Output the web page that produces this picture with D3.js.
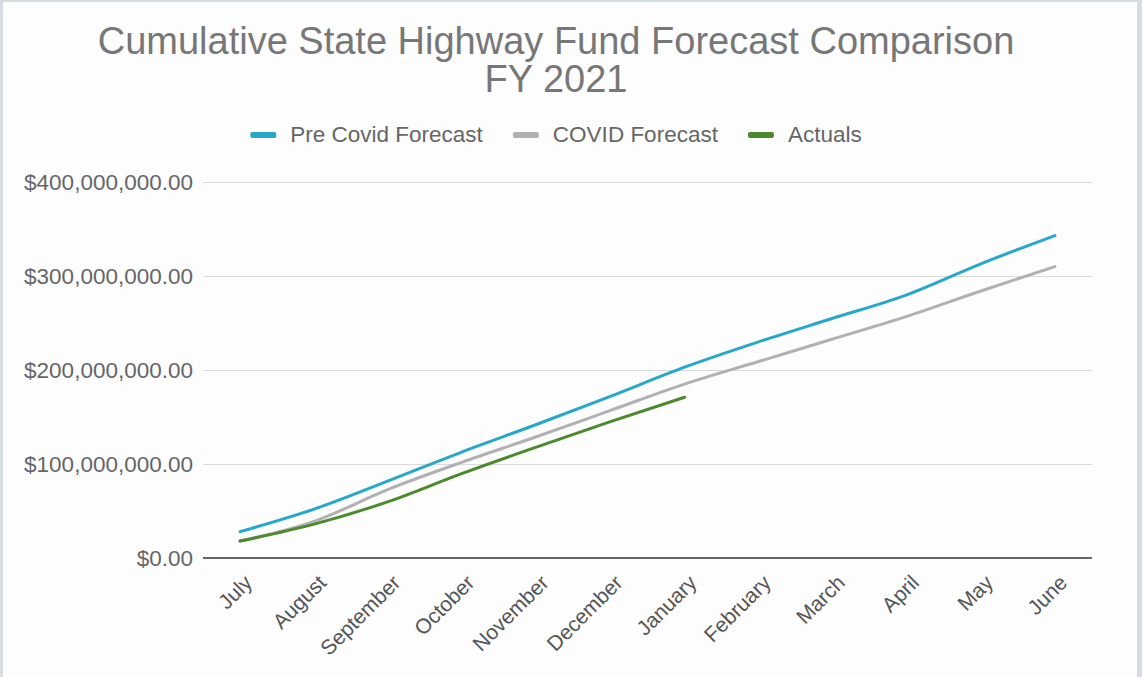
<!DOCTYPE html>
<html>
<head>
<meta charset="utf-8">
<script src="https://cdn.jsdelivr.net/npm/d3@7"></script>
<style>
  html, body { margin: 0; padding: 0; background: #fff; }
  svg { display: block; font-family: Arial, "Liberation Sans", sans-serif; }
</style>
</head>
<body>
<svg id="chart"></svg>
<script>
let width = 1142
let height = 677

let months = ['July', 'August', 'September', 'October', 'November', 'December',
              'January', 'February', 'March', 'April', 'May', 'June']
let preCovid = [28e6, 52e6, 82e6, 113e6, 142e6, 172e6, 203e6, 230e6, 255e6, 280e6, 313e6, 343e6]
let covidForecast = [18e6, 39e6, 73e6, 102e6, 129e6, 157e6, 185e6, 209e6, 233e6, 257e6, 284e6, 310e6]
let actuals = [18e6, 36e6, 60e6, 90e6, 118e6, 145e6, 171e6]
let yTicks = [0, 100e6, 200e6, 300e6, 400e6]

let series = [
    {name: 'Pre Covid Forecast', values: preCovid, color: '#27a8cb'},
    {name: 'COVID Forecast', values: covidForecast, color: '#b3b0b1'},
    {name: 'Actuals', values: actuals, color: '#4a8a2c'}
]

let svg = d3.select('#chart').attr('width', width).attr('height', height)

// frame
svg.append('rect').attr('width', width).attr('height', height).attr('fill', '#d5dde2')
svg.append('rect').attr('x', 3).attr('y', 2).attr('width', width - 8).attr('height', height - 2).attr('fill', '#fdfdfd')

let plot = {left: 203, right: 1092, top: 182, bottom: 558}

let x = d3.scalePoint().domain(months).range([plot.left, plot.right]).padding(0.5)
let y = d3.scaleLinear().domain([0, 400e6]).range([plot.bottom, plot.top])

// title
let title = svg.append('g').attr('fill', '#777').attr('font-size', 38).attr('text-anchor', 'middle')
title.append('text').attr('x', 556).attr('y', 54).text('Cumulative State Highway Fund Forecast Comparison')
title.append('text').attr('x', 556).attr('y', 92).text('FY 2021')

// legend
let legend = svg.append('g')
let lx = 0
series.forEach((s) => {
    let item = legend.append('g').attr('transform', 'translate(' + lx + ',0)')
    item.append('rect').attr('x', 0).attr('y', 132).attr('width', 26).attr('height', 6)
        .attr('rx', 2).attr('fill', s.color)
    let t = item.append('text').attr('x', 40).attr('y', 142).attr('font-size', 22.5)
        .attr('fill', '#666').text(s.name)
    lx += 40 + t.node().getComputedTextLength() + 30
})
let legendWidth = lx - 30
legend.attr('transform', 'translate(' + (556 - legendWidth / 2) + ',0)')

// y axis + grid
let yAxis = d3.axisLeft(y).tickValues(yTicks)
    .tickSize(-(plot.right - plot.left))
    .tickPadding(10)
    .tickFormat((d) => '$' + d3.format(',.2f')(d))

let yg = svg.append('g').attr('transform', 'translate(' + plot.left + ',0)').call(yAxis)
yg.select('.domain').remove()
yg.selectAll('.tick line').attr('stroke', '#dadada').attr('stroke-width', 1)
yg.selectAll('.tick text').attr('font-size', 22.5).attr('fill', '#666')
    .attr('font-family', 'Arial, "Liberation Sans", sans-serif')

// baseline
svg.append('line').attr('x1', plot.left).attr('x2', plot.right)
    .attr('y1', y(0)).attr('y2', y(0)).attr('stroke', '#666').attr('stroke-width', 2)

// x axis labels
let xAxis = d3.axisBottom(x).tickSize(0).tickPadding(0)
let xg = svg.append('g').attr('transform', 'translate(0,' + plot.bottom + ')').call(xAxis)
xg.select('.domain').remove()
xg.selectAll('.tick text')
    .attr('font-size', 21).attr('fill', '#555')
    .attr('font-family', 'Arial, "Liberation Sans", sans-serif')
    .attr('text-anchor', 'end')
    .attr('dy', null)
    .attr('y', 0)
    .attr('transform', 'translate(13,26) rotate(-45)')

// lines
let line = d3.line()
    .x((d, i) => x(months[i]))
    .y((d) => y(d))
    .curve(d3.curveMonotoneX)

svg.append('g').selectAll('path')
    .data(series)
    .enter()
    .append('path')
    .attr('d', (s) => line(s.values))
    .attr('fill', 'none')
    .attr('stroke', (s) => s.color)
    .attr('stroke-width', 3)
    .attr('stroke-linejoin', 'round')
    .attr('stroke-linecap', 'round')
</script>
</body>
</html>
